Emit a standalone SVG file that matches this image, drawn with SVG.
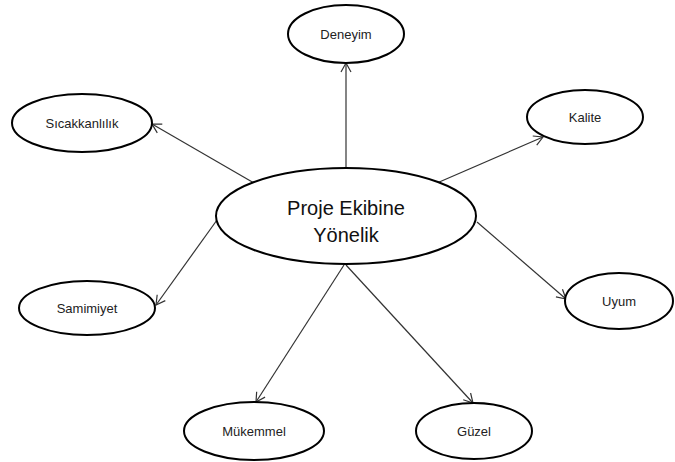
<svg xmlns="http://www.w3.org/2000/svg" width="675" height="462" viewBox="0 0 675 462">
<style>
.n{fill:#fff;stroke:#000;stroke-width:2}
.t{font-family:"Liberation Sans",Arial,sans-serif;font-size:13px;fill:#222;text-anchor:middle}
.c{font-family:"Liberation Sans",Arial,sans-serif;font-size:20px;fill:#111;text-anchor:middle}
.e{stroke:#333;stroke-width:1.2;fill:none;marker-end:url(#a)}
</style>
<defs>
<marker id="a" markerWidth="12" markerHeight="12" refX="10" refY="6" orient="auto" markerUnits="userSpaceOnUse">
<path d="M1,1 L10,6 L1,11" fill="none" stroke="#333" stroke-width="1.2"/>
</marker>
</defs>
<rect width="675" height="462" fill="#fff"/>
<g id="connectors">
<line class="e" x1="346" y1="168" x2="346" y2="63"/>
<line class="e" x1="254" y1="183" x2="152" y2="124"/>
<line class="e" x1="437" y1="183" x2="543" y2="137"/>
<line class="e" x1="217" y1="220" x2="156" y2="305"/>
<line class="e" x1="477" y1="222" x2="566" y2="299"/>
<line class="e" x1="344" y1="265" x2="256" y2="402"/>
<line class="e" x1="346" y1="265" x2="473" y2="403"/>
</g>
<g id="center"><ellipse class="n" cx="346" cy="216" rx="130" ry="48"/><text class="c" x="346" y="215">Proje Ekibine</text><text class="c" x="346" y="242">Yönelik</text></g>
<g id="deneyim"><ellipse class="n" cx="346" cy="34" rx="58" ry="29"/><text class="t" x="346" y="38.5">Deneyim</text></g>
<g id="sicakkanlilik"><ellipse class="n" cx="82" cy="123" rx="70" ry="29"/><text class="t" x="82" y="127.5">Sıcakkanlılık</text></g>
<g id="kalite"><ellipse class="n" cx="585" cy="117" rx="58" ry="27"/><text class="t" x="585" y="121.5">Kalite</text></g>
<g id="samimiyet"><ellipse class="n" cx="87" cy="308" rx="68" ry="27"/><text class="t" x="87" y="312.5">Samimiyet</text></g>
<g id="uyum"><ellipse class="n" cx="619" cy="301" rx="54" ry="28"/><text class="t" x="619" y="305.5">Uyum</text></g>
<g id="mukemmel"><ellipse class="n" cx="254" cy="431" rx="70" ry="29"/><text class="t" x="254" y="435.5">Mükemmel</text></g>
<g id="guzel"><ellipse class="n" cx="474" cy="431" rx="58" ry="28"/><text class="t" x="474" y="435.5">Güzel</text></g>
</svg>
